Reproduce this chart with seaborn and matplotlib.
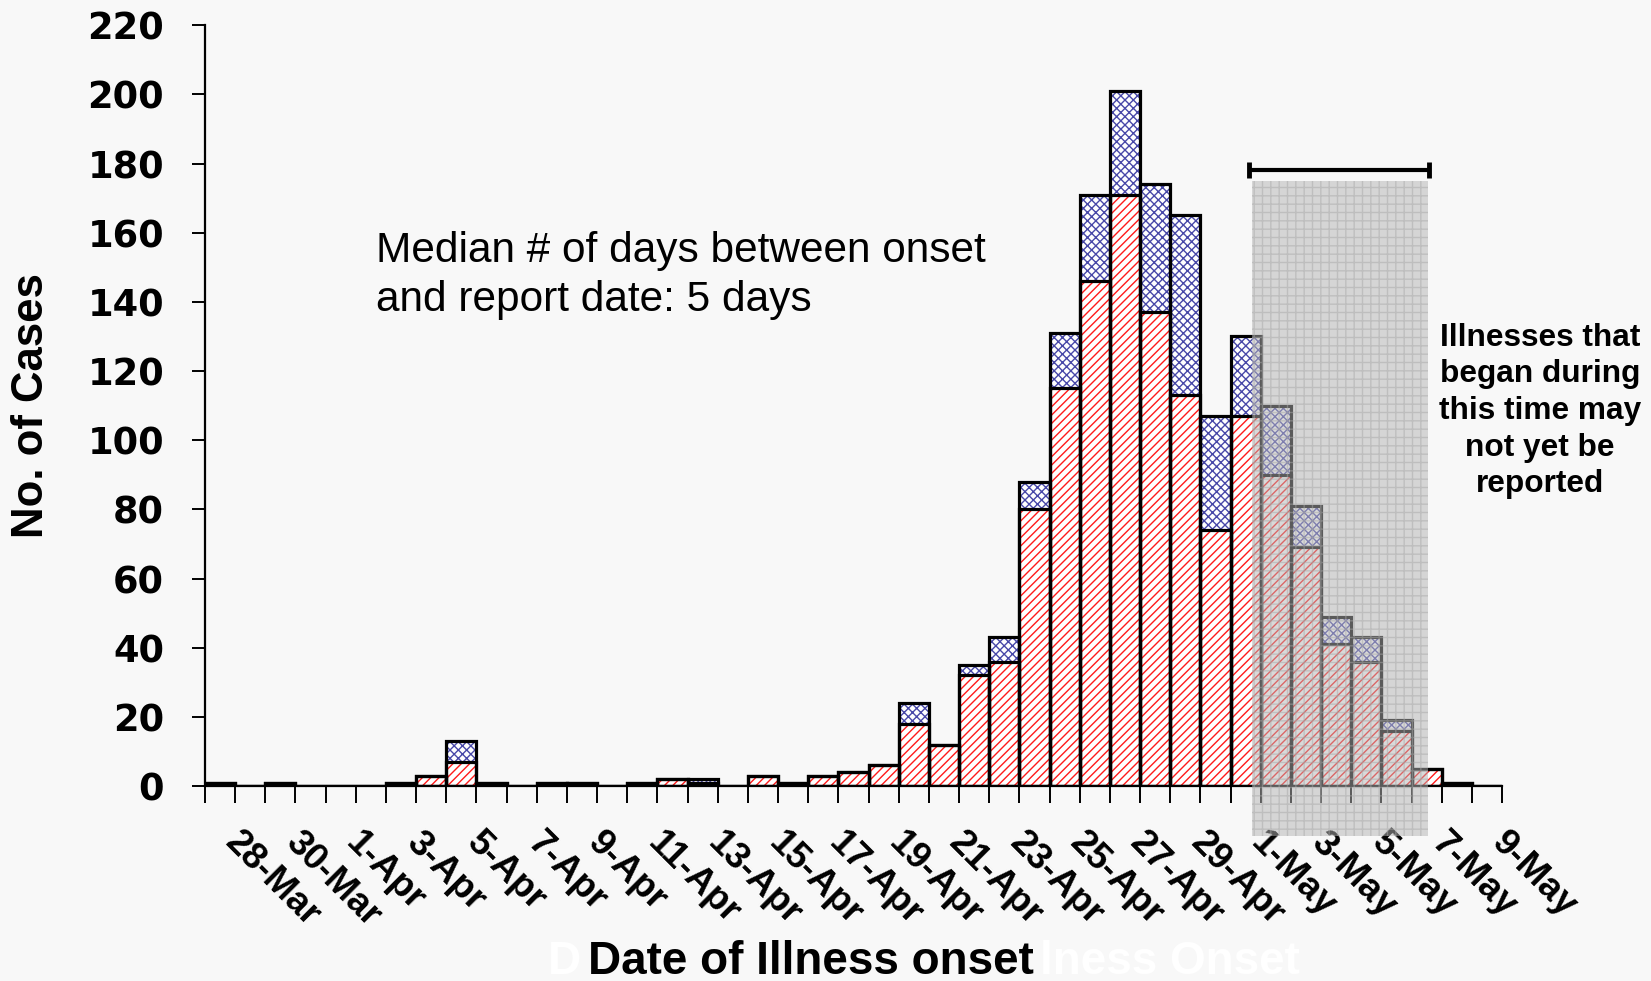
import matplotlib
matplotlib.use("Agg")
import matplotlib.pyplot as plt
import numpy as np
import pandas as pd
import seaborn as sns
from matplotlib.patches import Rectangle
from matplotlib.transforms import ScaledTranslation

# ---------------- data ----------------
dates = ["28-Mar", "29-Mar", "30-Mar", "31-Mar",
         "1-Apr", "2-Apr", "3-Apr", "4-Apr", "5-Apr", "6-Apr", "7-Apr", "8-Apr",
         "9-Apr", "10-Apr", "11-Apr", "12-Apr", "13-Apr", "14-Apr", "15-Apr",
         "16-Apr", "17-Apr", "18-Apr", "19-Apr", "20-Apr", "21-Apr", "22-Apr",
         "23-Apr", "24-Apr", "25-Apr", "26-Apr", "27-Apr", "28-Apr", "29-Apr",
         "30-Apr", "1-May", "2-May", "3-May", "4-May", "5-May", "6-May",
         "7-May", "8-May", "9-May"]
confirmed = [1, 0, 1, 0, 0, 0, 1, 3, 7, 1,
             0, 1, 1, 0, 1, 2, 1, 0, 3, 1,
             3, 4, 6, 18, 12, 32, 36, 80, 115, 146,
             171, 137, 113, 74, 107, 90, 69, 41, 36, 16,
             5, 1, 0]
probable = [0, 0, 0, 0, 0, 0, 0, 0, 6, 0,
            0, 0, 0, 0, 0, 0, 1, 0, 0, 0,
            0, 0, 0, 6, 0, 3, 7, 8, 16, 25,
            30, 37, 52, 33, 23, 20, 12, 8, 7, 3,
            0, 0, 0]
labeled_dates = dates[::2]
y_ticks = [0, 20, 40, 60, 80, 100, 120, 140, 160, 180, 200, 220]

# annotation geometry (data units)
shade_x = (34.2, 40.05)
shade_y = (-14.5, 174.9)
bracket_x = (34.12, 40.08)
bracket_y = 178.1

BG = "#f8f8f8"
RED = "#ff1a1a"
BLUE = "#4848a8"

sns.set_theme(style="white")
plt.rcParams["font.family"] = ["Liberation Sans", "DejaVu Sans"]
plt.rcParams["hatch.linewidth"] = 1.0
plt.rcParams["text.color"] = "black"

df = pd.DataFrame({"date": dates, "confirmed": confirmed, "probable": probable})
df["total"] = df["confirmed"] + df["probable"]

fig = plt.figure(figsize=(16.51, 9.81), dpi=100, facecolor=BG)
ax = fig.add_axes([0.12417, 0.19878, 0.78558, 0.77543])
ax.set_facecolor(BG)


def layer(col, hatch, hcolor, outline=False):
    n = len(ax.patches)
    sns.barplot(data=df, x="date", y=col, order=dates, width=1.0, color="white",
                saturation=1, errorbar=None, ax=ax)
    for p in ax.patches[n:]:
        if outline:
            p.set_facecolor("none")
            p.set_edgecolor("black")
            p.set_linewidth(2.3)
            p.set_zorder(3)
        else:
            p.set_facecolor("white")
            p.set_edgecolor(hcolor)
            p.set_hatch(hatch)
            p.set_linewidth(0)
            p.set_zorder(2)


layer("total", "xxxx", BLUE)
layer("confirmed", "////", RED)
layer("total", None, None, outline=True)
layer("confirmed", None, None, outline=True)

ax.set_xlim(-0.5, len(dates) - 0.5)
ax.set_ylim(0, 220)

# shaded "not yet reported" window and bracket
shade = Rectangle((shade_x[0], shade_y[0]), shade_x[1] - shade_x[0], shade_y[1] - shade_y[0],
                  facecolor="#b4b4b4", edgecolor="#a8a8a8", hatch="++", linewidth=0,
                  alpha=0.5, zorder=6, clip_on=False)
ax.add_patch(shade)
ax.plot(list(bracket_x), [bracket_y, bracket_y], color="black", lw=3.0,
        solid_capstyle="butt", clip_on=False, zorder=7)
for bx in bracket_x:
    ax.plot([bx, bx], [bracket_y - 2.3, bracket_y + 2.3], color="black", lw=3.5,
            solid_capstyle="butt", clip_on=False, zorder=7)

# axes styling
for s in ["top", "right"]:
    ax.spines[s].set_visible(False)
for s in ["left", "bottom"]:
    ax.spines[s].set_color("black")
    ax.spines[s].set_linewidth(1.6)

ax.set_yticks(y_ticks)
ax.set_yticklabels([str(v) for v in y_ticks])
ax.tick_params(axis="y", direction="out", length=9.4, width=1.4, color="black",
               pad=20, labelsize=26.5, left=True, labelcolor="black")
for lab in ax.get_yticklabels():
    lab.set_fontfamily("DejaVu Sans")
    lab.set_fontweight("bold")

pos = list(range(0, len(dates), 2))
ax.set_xticks(pos)
ax.set_xticklabels(labeled_dates)
ax.set_xticks(np.arange(-0.5, len(dates), 1.0), minor=True)
ax.tick_params(axis="x", which="major", length=0, pad=28, labelsize=26.5, bottom=True,
               labelcolor="black")
ax.tick_params(axis="x", which="minor", direction="out", length=12.2, width=1.4,
               color="black", bottom=True)
ax.set_xlabel("")
ax.set_ylabel("")
off = ScaledTranslation(0.23, 0, fig.dpi_scale_trans)
for lab in ax.get_xticklabels():
    lab.set_rotation(-45)
    lab.set_rotation_mode("anchor")
    lab.set_ha("left")
    lab.set_va("top")
    lab.set_fontweight("bold")
    lab.set_transform(lab.get_transform() + off)

# texts
fig.text(31.6 / 1651, 1 - 406 / 981, "No. of Cases", rotation=90, ha="center",
         va="center", fontsize=31.5, fontweight="bold", color="black")
# faint white remnants of an older axis title, visible around the real one
fig.text(548 / 1651, 1 - 962 / 981, "D", ha="left", va="center",
         fontsize=33, fontweight="bold", color="white")
fig.text(1300 / 1651, 1 - 962 / 981, "lness Onset", ha="right", va="center",
         fontsize=33, fontweight="bold", color="white")
fig.text(811 / 1651, 1 - 962 / 981, "Date of Illness onset", ha="center", va="center",
         fontsize=33, fontweight="bold", color="black")
fig.text(0.2277, 0.7192, "Median # of days between onset\nand report date: 5 days",
         ha="left", va="center", fontsize=30.5, color="black", linespacing=1.28)
fig.text(0.9328, 0.5810, "Illnesses that\nbegan during\nthis time may\nnot yet be\nreported",
         ha="center", va="center", multialignment="center", fontsize=22.8,
         fontweight="bold", color="black", linespacing=1.29)

fig.savefig("out.png", dpi=100, facecolor=BG)
